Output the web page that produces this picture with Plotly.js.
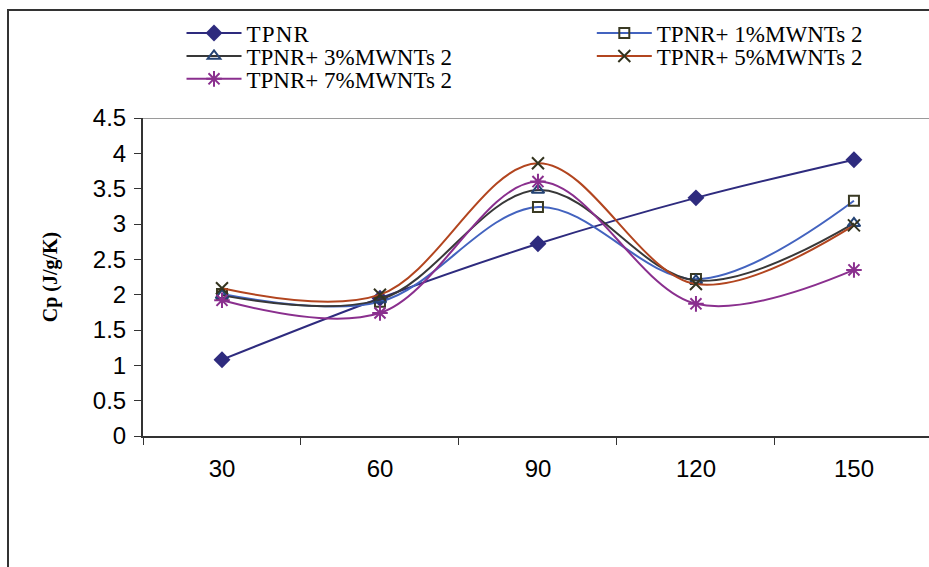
<!DOCTYPE html>
<html>
<head>
<meta charset="utf-8">
<script src="https://cdn.plot.ly/plotly-3.0.1.min.js"></script>
<style>
  html, body { margin: 0; padding: 0; background: #ffffff; overflow: hidden; }
  #frame { position: absolute; left: 7px; top: 9px; width: 1000px; height: 700px;
           border-left: 2px solid #333333; border-top: 2px solid #333333; }
  #chart { position: absolute; left: 0; top: 0; width: 929px; height: 567px; }
</style>
</head>
<body>
<div id="frame"></div>
<div id="chart"></div>
<script>
const temps = ['30', '60', '90', '120', '150'];
const seriesNames = ['TPNR', 'TPNR+ 1%MWNTs 2', 'TPNR+ 3%MWNTs 2', 'TPNR+ 5%MWNTs 2', 'TPNR+ 7%MWNTs 2'];
const tpnr = [1.08, 1.95, 2.72, 3.37, 3.91];
const mwnt1 = [2.01, 1.90, 3.24, 2.22, 3.33];
const mwnt3 = [1.99, 1.93, 3.48, 2.20, 3.01];
const mwnt5 = [2.09, 2.00, 3.86, 2.15, 2.98];
const mwnt7 = [1.92, 1.74, 3.60, 1.87, 2.35];
const yTicks = [0, 0.5, 1, 1.5, 2, 2.5, 3, 3.5, 4, 4.5];

const styles = [
  {line: '#2E2B7E', marker: {symbol: 'diamond', size: 13, color: '#2E2B7E'}},
  {line: '#4363BF', marker: {symbol: 'square-open', size: 10, color: '#3A3A24', line: {width: 2, color: '#3A3A24'}}},
  {line: '#383838', marker: {symbol: 'triangle-up-open', size: 11, color: '#244374', line: {width: 2, color: '#244374'}}},
  {line: '#B2451F', marker: {symbol: 'x-thin-open', size: 12, color: '#34341F', line: {width: 2, color: '#34341F'}}},
  {line: '#8A2F8E', marker: {symbol: 'asterisk-open', size: 13, color: '#8A2F8E', line: {width: 2, color: '#8A2F8E'}}}
];
const values = [tpnr, mwnt1, mwnt3, mwnt5, mwnt7];
const legendIds = ['legend', 'legend2', 'legend3', 'legend4', 'legend5'];

const traces = values.map((v, i) => ({
  type: 'scatter', mode: 'lines+markers', name: seriesNames[i],
  x: temps, y: v, legend: legendIds[i],
  line: {color: styles[i].line, width: 2, shape: 'spline', smoothing: 1},
  marker: styles[i].marker
}));

// legend placement (paper coords): [x, y]
const legendPos = [[0.049, 1.267], [0.571, 1.267], [0.049, 1.195], [0.571, 1.195], [0.049, 1.123]];
const legendFont = {family: 'Liberation Serif, Times New Roman, serif', size: 23, color: '#000'};

const layout = {
  width: 929, height: 567,
  margin: {l: 143, r: 0, t: 118, b: 131, pad: 0, autoexpand: false},
  paper_bgcolor: 'rgba(0,0,0,0)', plot_bgcolor: 'rgba(0,0,0,0)',
  showlegend: true,
  xaxis: {
    type: 'category', range: [-0.5, 4.475], tickson: 'boundaries',
    showline: true, linecolor: '#333333', linewidth: 2,
    ticks: 'outside', ticklen: 7, tickcolor: '#333333', tickwidth: 1,
    showgrid: false, zeroline: false,
    tickfont: {family: 'Liberation Sans, Arial, sans-serif', size: 24, color: '#000'},
    ticklabelstandoff: 10
  },
  yaxis: {
    range: [0, 4.5], tickvals: yTicks, ticktext: yTicks.map(String),
    showline: true, linecolor: '#333333', linewidth: 2,
    ticks: 'outside', ticklen: 7, tickcolor: '#333333', tickwidth: 1,
    showgrid: false, zeroline: false,
    tickfont: {family: 'Liberation Sans, Arial, sans-serif', size: 24, color: '#000'},
    ticklabelstandoff: 3,
    title: {text: '<b>Cp (J/g/K)</b>', font: {family: 'Liberation Serif, Times New Roman, serif', size: 20, color: '#000'}, standoff: 30}
  },
  shapes: [
    {type: 'line', xref: 'paper', yref: 'y', x0: 0, x1: 1, y0: 4.5, y1: 4.5,
     line: {color: '#9a9a9a', width: 2}}
  ]
};
legendIds.forEach((id, i) => {
  layout[id] = {
    x: legendPos[i][0], y: legendPos[i][1], xanchor: 'left', yanchor: 'middle',
    orientation: 'v', itemwidth: 55, font: legendFont,
    bgcolor: 'rgba(0,0,0,0)', borderwidth: 0
  };
});

Plotly.newPlot('chart', traces, layout, {displayModeBar: false, staticPlot: true}).then(() => {
  document.querySelectorAll('#chart .legendtext').forEach(t => {
    t.style.letterSpacing = '1.2px';
  });
});
</script>
</body>
</html>
